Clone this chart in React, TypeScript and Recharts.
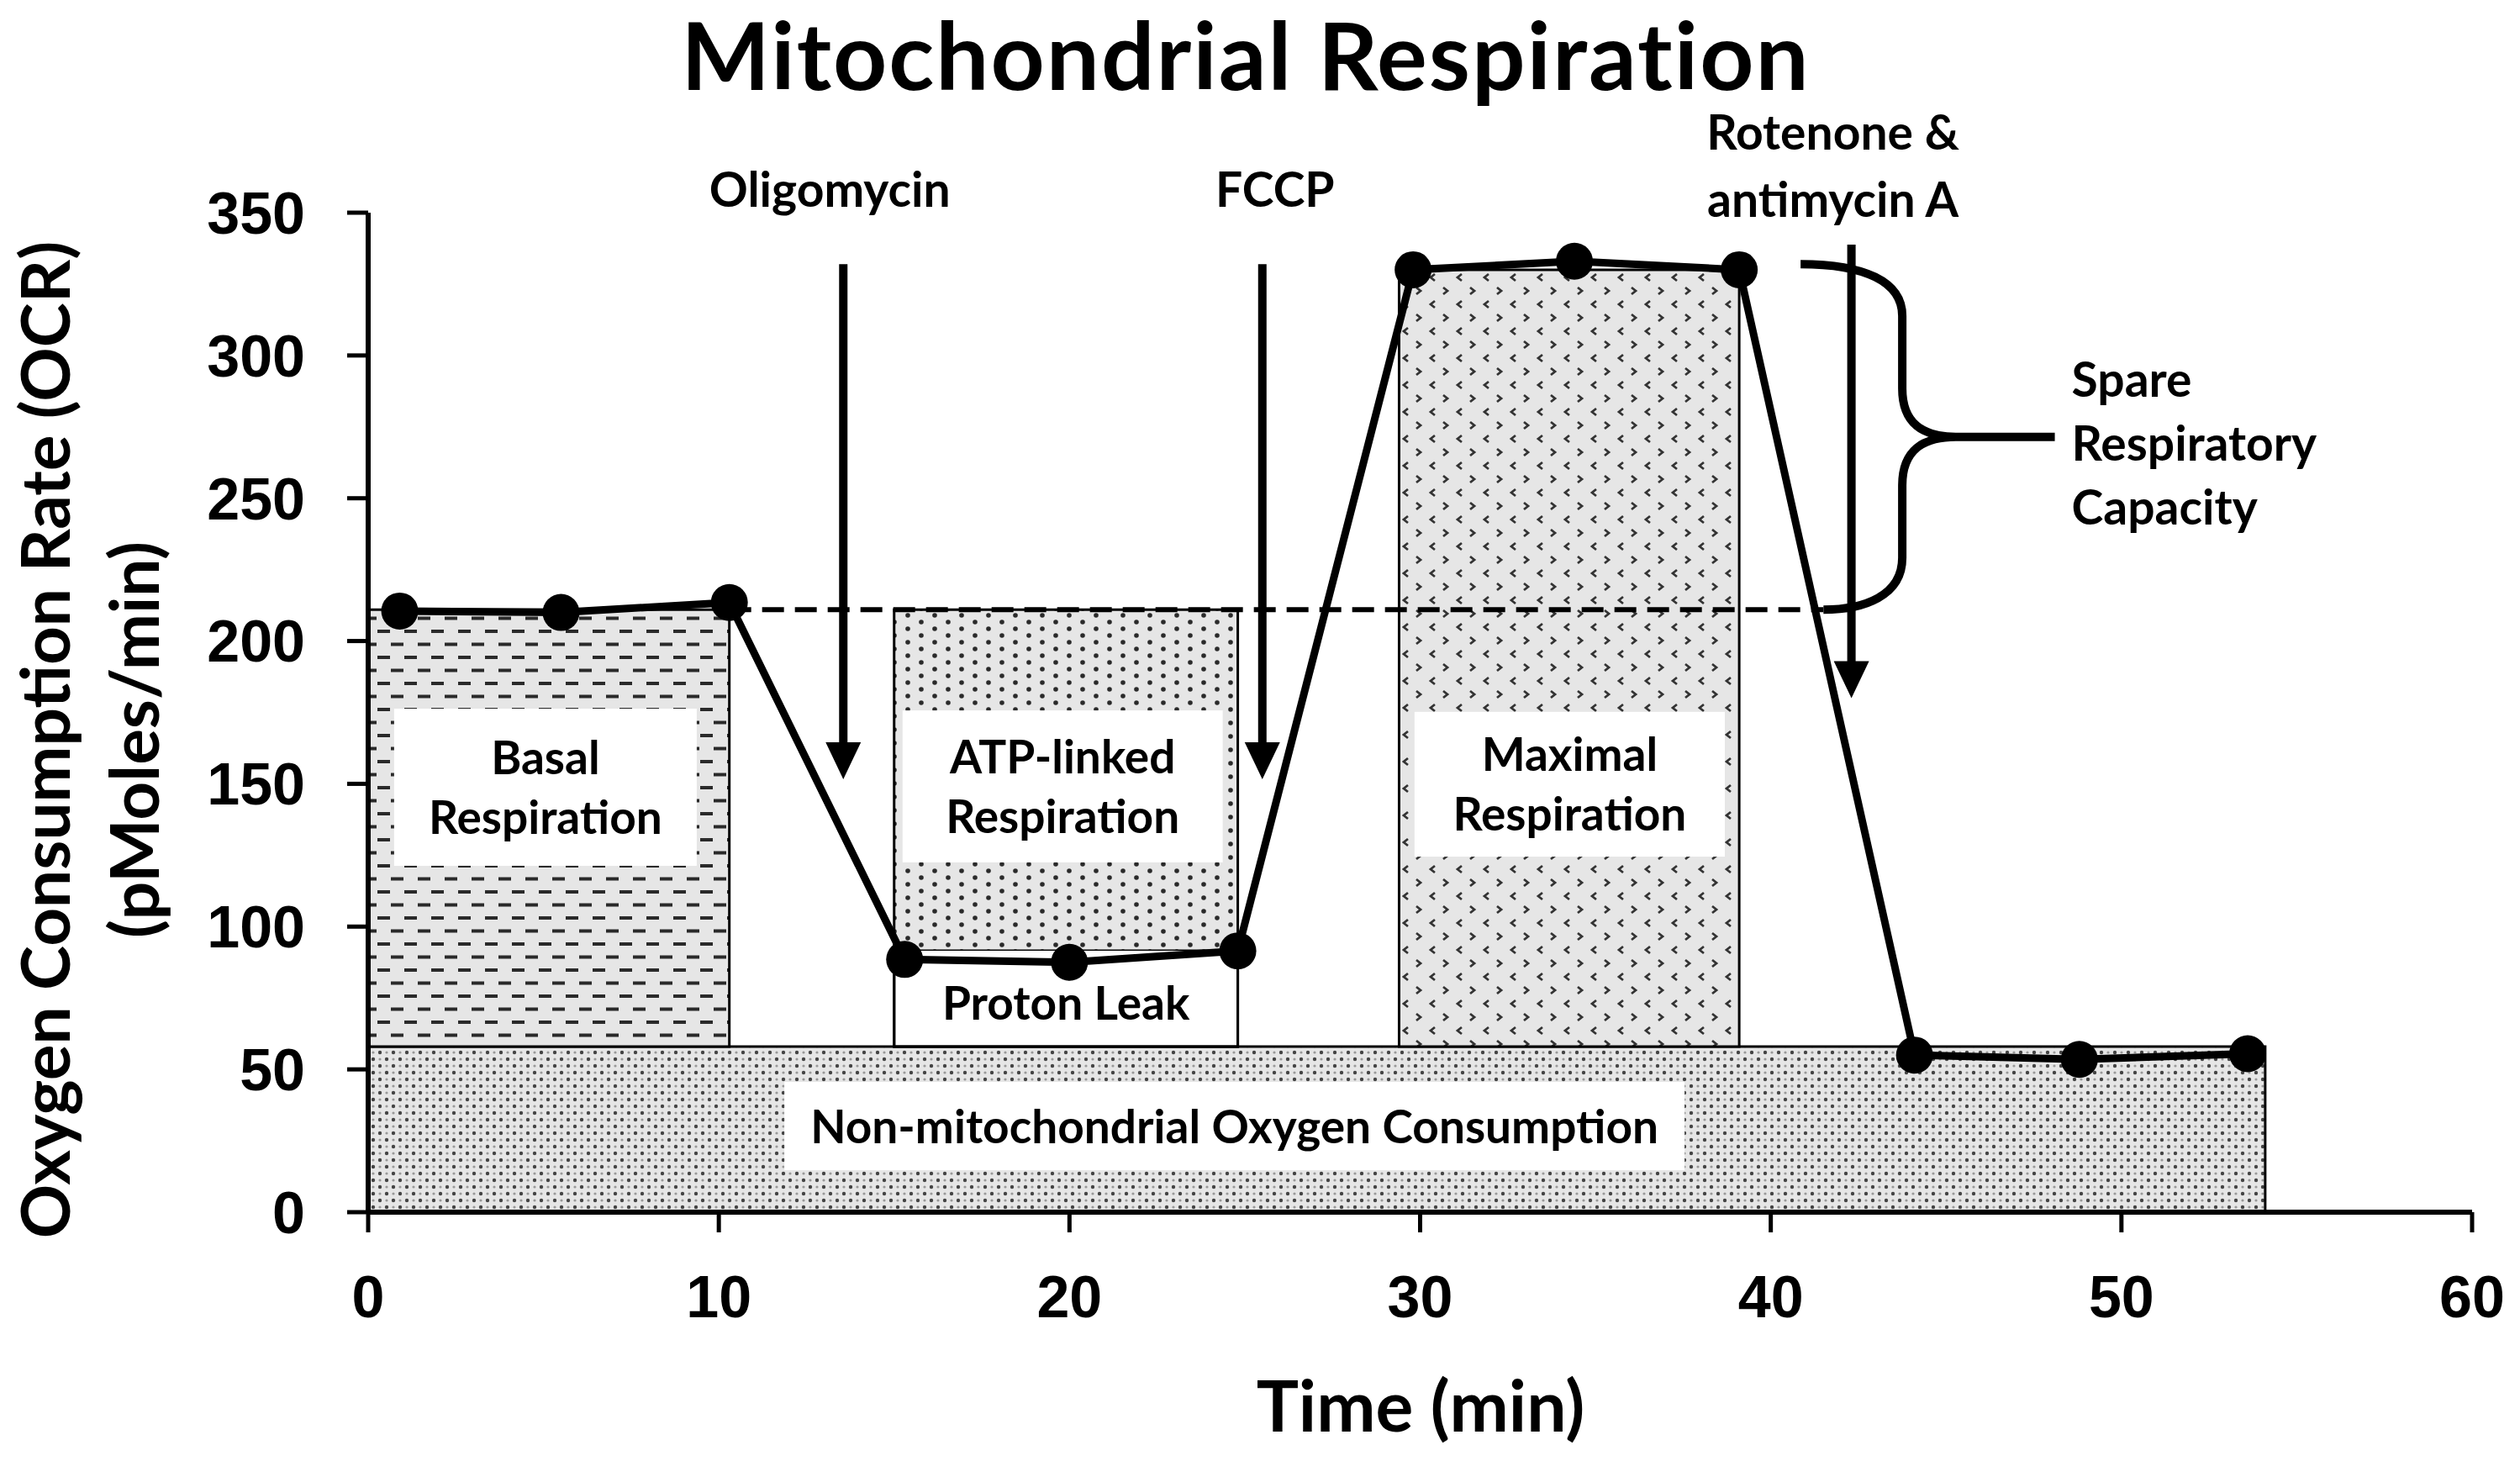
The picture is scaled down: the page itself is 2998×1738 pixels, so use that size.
import React from 'react'
import { ComposedChart, Line, XAxis, YAxis, ReferenceArea, ReferenceLine } from 'recharts'

// OCR trace
const times = [0.9, 5.5, 10.3, 15.3, 20.0, 24.8, 29.8, 34.4, 39.1, 44.1, 48.8, 53.6]
const ocr = [210.5, 210, 213.5, 88.5, 87.5, 91.5, 330, 333, 330, 55, 53.5, 55.5]

const xTicks = [0, 10, 20, 30, 40, 50, 60]
const yTicks = [0, 50, 100, 150, 200, 250, 300, 350]

// shaded regions (time span, OCR span)
const regionIds = ['nonMito', 'basal', 'protonLeak', 'atp', 'maximal']
const regionX1 = [0, 0, 15, 15, 29.4]
const regionX2 = [54.1, 10.3, 24.8, 24.8, 39.1]
const regionY1 = [0, 58, 58, 92, 58]
const regionY2 = [58, 211, 92, 211, 330]

// boxed labels
const labelLines = [['Basal', 'Respiration'], ['ATP-linked', 'Respiration'], ['Maximal', 'Respiration'], ['Non-mitochondrial Oxygen Consumption'], ['Proton Leak']]
const labelX1 = [0.74, 15.24, 29.84, 11.87, 15.4]
const labelX2 = [9.37, 24.37, 38.69, 37.54, 24.4]
const labelY1 = [121.3, 122.5, 124.5, 14.7, 62]
const labelY2 = [176.3, 175.7, 175.2, 45.6, 84.6]

// injections
const injectionLabels = [['Oligomycin'], ['FCCP'], ['Rotenone &', 'antimycin A']]
const injectionTimes = [13.55, 25.5, 42.3]
const arrowTop = [332, 332, 338.8]
const arrowTip = [151.6, 151.6, 180]

const basalLevel = 211
const basalLineSpan = [10.3, 41.5]
const spareSpan = [40.85, 48.1]
const spareTop = 332

const series = times.map((t, i) => ({ time: t, ocr: ocr[i] }))

const fills: Record<string, string> = {
  nonMito: 'url(#pat-check)',
  basal: 'url(#pat-dash)',
  protonLeak: '#fff',
  atp: 'url(#pat-dot)',
  maximal: 'url(#pat-chevron)',
}

const textFont = { fontFamily: 'Lato, "Open Sans", sans-serif', fontWeight: 700, fill: '#000' }
const tickFont = { fontFamily: '"Liberation Sans", Arial, sans-serif', fontWeight: 700, fontSize: 70, fill: '#000' }

const labelBox = (lines: string[], filled: boolean) => (p: any) => {
  const cx = p.x + p.width / 2
  const cy = p.y + p.height / 2
  return (
    <g>
      {filled && <rect x={p.x} y={p.y} width={p.width} height={p.height} fill="#fff" />}
      {lines.map((t, i) => (
        <text key={i} x={cx} y={cy + (i - (lines.length - 1) / 2) * 71 + 20} textAnchor="middle" fontSize={55} style={textFont}>
          {t}
        </text>
      ))}
    </g>
  )
}

const arrow = (lines: string[], dx: number, baseOffset: number) => (p: any) => {
  const { x1, y1, x2, y2 } = p
  const head = 44
  return (
    <g>
      <line x1={x1} y1={y1} x2={x2} y2={y2 - head + 2} stroke="#000" strokeWidth={10} />
      <polygon points={`${x2 - 21},${y2 - head} ${x2 + 21},${y2 - head} ${x2},${y2}`} fill="#000" />
      {lines.map((t, i) => (
        <text key={i} x={x1 + dx} y={y1 + baseOffset - (lines.length - 1 - i) * 80} textAnchor="middle" fontSize={57} style={textFont}>
          {t}
        </text>
      ))}
    </g>
  )
}

const brace = (p: any) => {
  const { x, y, width: w, height: h } = p
  const vx = x + 0.4 * w
  const tx = x + 0.61 * w
  const my = y + 0.5 * h
  const d = [
    `M${x},${y}`,
    `C${x + 0.25 * w},${y} ${vx},${y + 0.05 * h} ${vx},${y + 0.15 * h}`,
    `L${vx},${y + 0.36 * h}`,
    `C${vx},${y + 0.46 * h} ${vx + 0.08 * w},${my} ${tx},${my}`,
    `L${x + w},${my}`,
    `M${tx},${my}`,
    `C${vx + 0.08 * w},${my} ${vx},${y + 0.54 * h} ${vx},${y + 0.64 * h}`,
    `L${vx},${y + 0.85 * h}`,
    `C${vx},${y + 0.96 * h} ${x + 0.25 * w},${y + h} ${x + 0.09 * w},${y + h}`,
  ].join(' ')
  const lines = ['Spare', 'Respiratory', 'Capacity']
  return (
    <g>
      <path d={d} stroke="#000" strokeWidth={10} fill="none" />
      {lines.map((t, i) => (
        <text key={i} x={x + w + 20} y={my + 8 + (i - 1) * 76 + 20} fontSize={57} style={textFont}>
          {t}
        </text>
      ))}
    </g>
  )
}

const YTitle = () => (
  <g>
    <text transform="translate(83,880) rotate(-90)" textAnchor="middle" fontSize={80} style={textFont}>
      Oxygen Consumption Rate (OCR)
    </text>
    <text transform="translate(189,880) rotate(-90)" textAnchor="middle" fontSize={80} style={textFont}>
      (pMoles/min)
    </text>
  </g>
)

const XTitle = () => (
  <text x={1690} y={1703} textAnchor="middle" fontSize={84} style={textFont}>
    Time (min)
  </text>
)

export default function App() {
  return (
    <div style={{ position: 'absolute', left: 0, top: 0, width: 2998, height: 1738, background: '#fff' }}>
      <div
        style={{
          position: 'absolute',
          left: 0,
          top: 8,
          width: 2964,
          textAlign: 'center',
          fontFamily: 'Lato, "Open Sans", sans-serif',
          fontWeight: 700,
          fontSize: 112,
          lineHeight: '112px',
          letterSpacing: 2,
          color: '#000',
        }}
      >
        Mitochondrial Respiration
      </div>
      <ComposedChart width={2998} height={1738} data={series} margin={{ top: 253, right: 57, bottom: 0, left: 0 }}>
        <defs>
          <pattern id="pat-dash" width={32} height={31} patternUnits="userSpaceOnUse">
            <rect width={32} height={31} fill="#e6e6e6" />
            <rect x={1} y={5} width={15} height={4} fill="#2a2a2a" />
            <rect x={17} y={20.5} width={15} height={4} fill="#2a2a2a" />
          </pattern>
          <pattern id="pat-dot" width={32} height={16} patternUnits="userSpaceOnUse">
            <rect width={32} height={16} fill="#e6e6e6" />
            <circle cx={8} cy={4} r={2.8} fill="#2a2a2a" />
            <circle cx={24} cy={12} r={2.8} fill="#2a2a2a" />
          </pattern>
          <pattern id="pat-chevron" width={32} height={32} patternUnits="userSpaceOnUse">
            <rect width={32} height={32} fill="#e6e6e6" />
            <path d="M11 6 L6 10 L11 14" stroke="#333" strokeWidth={2.8} fill="none" />
            <path d="M21 22 L26 26 L21 30" stroke="#333" strokeWidth={2.8} fill="none" />
          </pattern>
          <pattern id="pat-check" width={16} height={16} patternUnits="userSpaceOnUse">
            <rect width={16} height={16} fill="#e6e6e6" />
            <circle cx={4} cy={4} r={2.2} fill="#444" />
            <circle cx={12} cy={12} r={2.2} fill="#444" />
            <circle cx={12} cy={4} r={1.6} fill="#999" />
            <circle cx={4} cy={12} r={1.6} fill="#999" />
          </pattern>
        </defs>
        <XAxis
          dataKey="time"
          type="number"
          domain={[0, 60]}
          ticks={xTicks}
          height={296}
          tickSize={24}
          tickMargin={51}
          axisLine={{ stroke: '#000', strokeWidth: 6 }}
          tickLine={{ stroke: '#000', strokeWidth: 5 }}
          tick={tickFont}
          label={<XTitle />}
        />
        <YAxis
          type="number"
          domain={[0, 350]}
          ticks={yTicks}
          width={438}
          tickSize={25}
          tickMargin={50}
          axisLine={{ stroke: '#000', strokeWidth: 6 }}
          tickLine={{ stroke: '#000', strokeWidth: 5 }}
          tick={tickFont}
          label={<YTitle />}
        />
        {regionIds.map((id, i) => (
          <ReferenceArea
            key={id}
            x1={regionX1[i]}
            x2={regionX2[i]}
            y1={regionY1[i]}
            y2={regionY2[i]}
            fill={fills[id]}
            fillOpacity={1}
            stroke={id === 'atp' ? 'none' : '#000'}
            strokeWidth={3}
          />
        ))}
        <ReferenceArea x1={15} x2={24.8} y1={58} y2={211} fill="none" fillOpacity={0} stroke="#000" strokeWidth={3} />
        {labelLines.map((lines, i) => (
          <ReferenceArea
            key={lines.join(' ')}
            x1={labelX1[i]}
            x2={labelX2[i]}
            y1={labelY1[i]}
            y2={labelY2[i]}
            shape={labelBox(lines, i < 4)}
          />
        ))}
        <ReferenceLine
          segment={[
            { x: basalLineSpan[0], y: basalLevel },
            { x: basalLineSpan[1], y: basalLevel },
          ]}
          stroke="#000"
          strokeWidth={6}
          strokeDasharray="26 13"
        />
        <Line
          dataKey="ocr"
          type="linear"
          stroke="#000"
          strokeWidth={9}
          dot={{ r: 22, fill: '#000', stroke: '#000', strokeWidth: 0 }}
          activeDot={false}
          isAnimationActive={false}
        />
        {injectionLabels.map((lines, i) => (
          <ReferenceLine
            key={lines[0]}
            segment={[
              { x: injectionTimes[i], y: arrowTop[i] },
              { x: injectionTimes[i], y: arrowTip[i] },
            ]}
            ifOverflow="visible"
            shape={arrow(lines, [-16, 15, -22][i], i === 2 ? -33 : -68)}
          />
        ))}
        <ReferenceArea x1={spareSpan[0]} x2={spareSpan[1]} y1={basalLevel} y2={spareTop} shape={brace} />
      </ComposedChart>
    </div>
  )
}
